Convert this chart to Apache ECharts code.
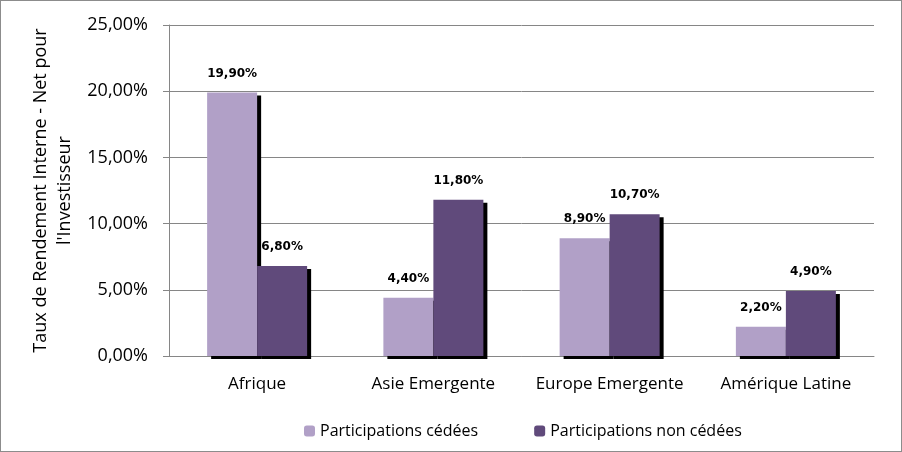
<!DOCTYPE html>
<html><head><meta charset="utf-8">
<script src="https://cdn.jsdelivr.net/npm/echarts@6/dist/echarts.min.js"></script>
<style>html,body{margin:0;padding:0;background:#fff}#c{width:902px;height:452px;box-sizing:border-box;border:1px solid #8c8c8c}</style>
</head><body><div id="c"></div>
<script>
const categories = ['Afrique', 'Asie Emergente', 'Europe Emergente', 'Amérique Latine'];
const cedees = [19.9, 4.4, 8.9, 2.2];
const nonCedees = [6.8, 11.8, 10.7, 4.9];
const seriesNames = ['Participations cédées', 'Participations non cédées'];
const yTitle = "Taux de Rendement Interne - Net pour\nl'Investisseur";

const fmt = v => v.toFixed(2).replace('.', ',') + '%';
const chart = echarts.init(document.getElementById('c'));
const font = '"Open Sans", "Liberation Sans", sans-serif';
const labelCfg = {
  show: true, position: 'top', distance: 13,
  formatter: p => fmt(p.value),
  fontFamily: '"DejaVu Sans", sans-serif', fontWeight: 'bold', fontSize: 12, color: '#000'
};
const shadow = {shadowColor: '#000', shadowOffsetX: 4, shadowOffsetY: 3, shadowBlur: 0};
chart.setOption({
  animation: false,
  grid: {left: 168, right: 27, top: 24, bottom: 95, containLabel: false},
  legend: {
    bottom: 7, left: 298, itemWidth: 11, itemHeight: 11, itemGap: 56,
    textStyle: {fontFamily: font, fontSize: 16, color: '#000'},
    data: seriesNames
  },
  xAxis: {
    type: 'category', data: categories,
    axisLine: {lineStyle: {color: '#868686'}},
    axisTick: {show: false},
    axisLabel: {interval: 0, fontFamily: font, fontSize: 17, color: '#000', margin: 20}
  },
  yAxis: {
    type: 'value', min: 0, max: 25, interval: 5,
    name: yTitle, nameLocation: 'middle', nameGap: 89, nameRotate: 90,
    nameTextStyle: {fontFamily: font, fontSize: 18, color: '#000', lineHeight: 24},
    axisLine: {show: true, lineStyle: {color: '#868686'}},
    axisTick: {show: true, length: 6, lineStyle: {color: '#868686'}},
    axisLabel: {fontFamily: font, fontSize: 18, color: '#000', margin: 21, formatter: v => fmt(v)},
    splitLine: {lineStyle: {color: '#868686'}}
  },
  series: [
    {name: seriesNames[0], type: 'bar', data: cedees, barWidth: 50, barGap: '0%',
     itemStyle: Object.assign({color: '#B1A0C7'}, shadow), label: labelCfg},
    {name: seriesNames[1], type: 'bar', data: nonCedees, barWidth: 50,
     itemStyle: Object.assign({color: '#604A7B'}, shadow), label: labelCfg}
  ]
});
</script></body></html>
